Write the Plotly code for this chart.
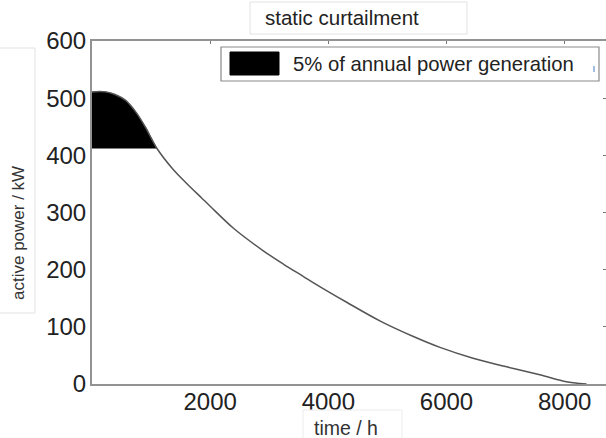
import plotly.graph_objects as go

# Sorted annual load duration curve of the plant (hours of the year vs. active power)
hours = [0, 230, 400, 570, 740, 900, 1100, 1360, 1590, 1860, 2000, 2400, 2900,
         3250, 3580, 3750, 4310, 4880, 5440, 5890, 6450, 7020, 7580, 8030, 8260, 8370]
power_kw = [511, 511, 506, 496, 476, 450, 412, 377, 352, 325, 311, 272, 233,
            209, 188, 177, 143, 110, 83, 64, 45, 30, 16, 4, 1, 0]

# Static curtailment level; energy above it is the curtailed share
curtail_kw = 412
legend_text = "5% of annual power generation"
title_text = "static curtailment"
x_title = "time / h"
y_title = "active power / kW"
x_ticks = [2000, 4000, 6000, 8000]
y_ticks = [0, 100, 200, 300, 400, 500, 600]

W, H = 606, 438
L, R, T, B = 92, 0, 41, 54
FONT = "Liberation Sans, Arial, sans-serif"


def px(x):
    return (x - L) / (W - L - R)


def py(y):
    return (H - B - y) / (H - T - B)


# Area between the curve and the curtailment level
cut_x = [h for h, p in zip(hours, power_kw) if p >= curtail_kw]
cut_y = [p for p in power_kw if p >= curtail_kw]

fig = go.Figure()
fig.add_trace(go.Scatter(x=cut_x, y=[curtail_kw] * len(cut_x), mode="lines",
                         line=dict(width=0, color="black"),
                         showlegend=False, hoverinfo="skip"))
fig.add_trace(go.Scatter(x=cut_x, y=cut_y, mode="lines", fill="tonexty",
                         fillcolor="black",
                         line=dict(width=0.5, color="black", shape="spline", smoothing=0.8),
                         showlegend=False, hoverinfo="skip"))
fig.add_trace(go.Scatter(x=hours, y=power_kw, mode="lines",
                         line=dict(color="#555555", width=1.5, shape="spline", smoothing=1.0),
                         showlegend=False))
# invisible trace to carry the mirrored tick axes
fig.add_trace(go.Scatter(x=[0], y=[0], xaxis="x2", yaxis="y2", mode="markers",
                         marker=dict(opacity=0), showlegend=False, hoverinfo="skip"))

axis_line = "#929292"
fig.update_layout(
    width=W, height=H,
    margin=dict(l=L, r=R, t=T, b=B, pad=0),
    paper_bgcolor="white", plot_bgcolor="white",
    font=dict(family=FONT, color="#222222"),
    showlegend=False,
    xaxis=dict(range=[0, 8700], tickvals=x_ticks, ticktext=[str(v) for v in x_ticks],
               showgrid=False, zeroline=False, showline=True, linecolor=axis_line,
               linewidth=2, mirror=True, ticks="", ticklabelstandoff=-5,
               tickfont=dict(size=24, color="#222222")),
    yaxis=dict(range=[0, 600], tickvals=y_ticks, ticktext=[str(v) for v in y_ticks],
               showgrid=False, zeroline=False, showline=True, linecolor=axis_line,
               linewidth=2, mirror=False, ticks="", ticklabelstandoff=-1,
               tickfont=dict(size=24, color="#222222")),
    xaxis2=dict(range=[0, 8700], overlaying="x", side="top", tickvals=x_ticks,
                showticklabels=False, ticks="inside", ticklen=3, tickcolor="#777777",
                showgrid=False, zeroline=False, showline=False),
    yaxis2=dict(range=[0, 600], overlaying="y", side="right", tickvals=y_ticks,
                showticklabels=False, ticks="inside", ticklen=3, tickcolor="#777777",
                showgrid=False, zeroline=False, showline=False),
)

shapes = []
annotations = []

# title box
shapes.append(dict(type="rect", xref="paper", yref="paper",
                   x0=px(250), x1=px(467), y0=py(34), y1=py(2),
                   line=dict(color="#e2e2e2", width=1), fillcolor="white"))
annotations.append(dict(text=title_text, xref="paper", yref="paper",
                        x=px(263), y=py(18), xanchor="left", yanchor="middle",
                        showarrow=False, font=dict(size=20.5, color="#222222")))

# legend box
shapes.append(dict(type="rect", xref="paper", yref="paper",
                   x0=px(221), x1=px(599), y0=py(81), y1=py(47),
                   line=dict(color="#8a8a8a", width=1.2), fillcolor="white"))
shapes.append(dict(type="rect", xref="paper", yref="paper",
                   x0=px(230), x1=px(279), y0=py(75), y1=py(52),
                   line=dict(color="black", width=1), fillcolor="black"))
shapes.append(dict(type="line", xref="paper", yref="paper",
                   x0=px(594), x1=px(594), y0=py(72), y1=py(66),
                   line=dict(color="#7fa8d8", width=1.5)))
annotations.append(dict(text=legend_text, xref="paper", yref="paper",
                        x=px(291), y=py(64), xanchor="left", yanchor="middle",
                        showarrow=False, font=dict(size=20.3, color="#222222")))

# y-axis title box
shapes.append(dict(type="rect", xref="paper", yref="paper",
                   x0=px(-2), x1=px(35), y0=py(313), y1=py(48),
                   line=dict(color="#e2e2e2", width=1), fillcolor="rgba(0,0,0,0)"))
annotations.append(dict(text=y_title, xref="paper", yref="paper",
                        x=px(18), y=py(233), xanchor="center", yanchor="middle",
                        textangle=-90, showarrow=False,
                        font=dict(size=17, color="#333333")))

# x-axis title box
shapes.append(dict(type="rect", xref="paper", yref="paper",
                   x0=px(303), x1=px(402), y0=py(440), y1=py(410),
                   line=dict(color="#ececec", width=1), fillcolor="rgba(0,0,0,0)"))
annotations.append(dict(text=x_title, xref="paper", yref="paper",
                        x=px(346), y=py(428), xanchor="center", yanchor="middle",
                        showarrow=False, font=dict(size=19.5, color="#333333")))

fig.update_layout(shapes=shapes, annotations=annotations)
fig.write_html("out.html")
